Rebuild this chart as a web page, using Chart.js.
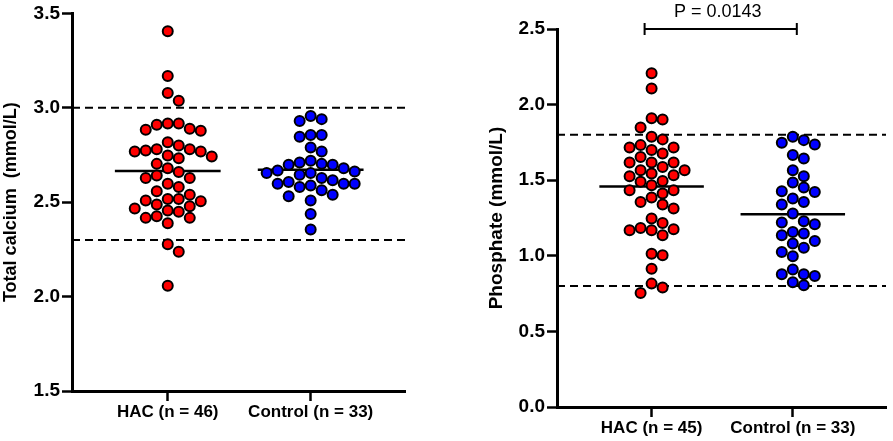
<!DOCTYPE html>
<html>
<head>
<meta charset="utf-8">
<script src="https://cdn.jsdelivr.net/npm/chart.js@4.4.1/dist/chart.umd.min.js"></script>
<style>
  html, body { margin: 0; padding: 0; background: #fff; }
  #wrap { position: relative; width: 893px; height: 441px; }
  canvas { position: absolute; top: 0; }
  #calciumChart { left: 0; }
  #phosphateChart { left: 440px; }
</style>
</head>
<body>
<div id="wrap">
  <canvas id="calciumChart" width="440" height="441"></canvas>
  <canvas id="phosphateChart" width="453" height="441"></canvas>
</div>
<script>
// values (mmol/L)
const calciumGroups = ['HAC (n = 46)', 'Control (n = 33)'];
const calciumHAC = [3.405, 3.168, 3.079, 3.037, 2.917, 2.917, 2.884, 2.889, 2.879, 2.91,
  2.817, 2.78, 2.768, 2.747, 2.774, 2.768, 2.8, 2.78, 2.733, 2.742,
  2.703, 2.68, 2.628, 2.642, 2.66, 2.628, 2.58, 2.598, 2.558, 2.54,
  2.479, 2.467, 2.509, 2.505, 2.517, 2.488, 2.517, 2.449, 2.456, 2.417,
  2.417, 2.426, 2.388, 2.277, 2.238, 2.058];
const calciumControl = [2.93, 2.94, 2.956, 2.856, 2.847, 2.856, 2.79, 2.768, 2.71, 2.703,
  2.698, 2.698, 2.72, 2.68, 2.668, 2.654, 2.646, 2.628, 2.663, 2.654,
  2.616, 2.598, 2.598, 2.58, 2.588, 2.563, 2.598, 2.607, 2.54, 2.509,
  2.532, 2.438, 2.356];
const calciumTicks = [1.5, 2.0, 2.5, 3.0, 3.5];
const calciumRefRange = [2.3, 3.0];

const phosphateGroups = ['HAC (n = 45)', 'Control (n = 33)'];
const phosphateHAC = [2.207, 2.107, 1.909, 1.902, 1.849, 1.787, 1.77, 1.717, 1.732, 1.717,
  1.699, 1.677, 1.654, 1.617, 1.617, 1.617, 1.588, 1.566, 1.566, 1.533,
  1.544, 1.526, 1.495, 1.489, 1.434, 1.467, 1.412, 1.434, 1.385, 1.356,
  1.339, 1.313, 1.246, 1.217, 1.169, 1.169, 1.136, 1.175, 1.184, 1.003,
  1.014, 0.915, 0.816, 0.79, 0.754];
const phosphateControl = [1.787, 1.736, 1.747, 1.765, 1.644, 1.666, 1.566, 1.526, 1.485, 1.452,
  1.427, 1.422, 1.379, 1.356, 1.339, 1.279, 1.209, 1.22, 1.228, 1.158,
  1.136, 1.147, 1.081, 1.098, 1.054, 1.025, 0.997, 0.909, 0.878, 0.867,
  0.878, 0.825, 0.805];
const phosphateTicks = [0.0, 0.5, 1.0, 1.5, 2.0, 2.5];
const phosphateRefRange = [0.8, 1.8];
const phosphatePLabel = 'P = 0.0143';

const FONT = "'Liberation Sans', Arial, sans-serif";
Chart.defaults.font.family = FONT;
Chart.defaults.color = '#000';

const X_MIN = -0.67, X_MAX = 1.66;
const MEAN_HALF = 0.37;

function mean(arr) {
  return arr.reduce((a, b) => a + b, 0) / arr.length;
}

function pointSet(values, pos, fill) {
  return {
    type: 'scatter',
    data: values.map(v => ({ x: pos, y: v })),
    backgroundColor: fill,
    borderColor: '#000',
    borderWidth: 2,
    pointRadius: 5,
    swarm: true,
    order: 0,
    clip: false
  };
}

function meanLine(values, pos) {
  const m = mean(values);
  return {
    type: 'line',
    data: [{ x: pos - MEAN_HALF, y: m }, { x: pos + MEAN_HALF, y: m }],
    borderColor: '#000',
    borderWidth: 2.5,
    pointRadius: 0,
    order: 1,
    clip: false
  };
}

function refLine(y) {
  return {
    type: 'line',
    data: [{ x: X_MIN, y: y }, { x: X_MAX, y: y }],
    borderColor: '#000',
    borderWidth: 2,
    borderDash: [8, 5],
    pointRadius: 0,
    order: 2,
    clip: false
  };
}

// spread the dots sideways so they don't pile up (simple beeswarm in pixels)
function beeswarm(chart) {
  const xs = chart.scales.x, ys = chart.scales.y;
  const unit = xs.getPixelForValue(1) - xs.getPixelForValue(0);
  const diam = 11, step = diam / 2;
  chart.data.datasets.forEach(ds => {
    if (!ds.swarm) return;
    const placed = [];
    const idx = ds.data.map((p, i) => i).sort((a, b) => ds.data[b].y - ds.data[a].y);
    idx.forEach(i => {
      const py = ys.getPixelForValue(ds.data[i].y);
      for (let k = 0; ; k++) {
        const dx = (k % 2 ? 1 : -1) * Math.ceil(k / 2) * step;
        if (placed.every(q => Math.hypot(q.dx - dx, q.py - py) >= diam)) {
          placed.push({ dx: dx, py: py });
          ds.data[i].x += dx / unit;
          break;
        }
      }
    });
  });
  chart.update('none');
}

const pBracket = {
  id: 'pBracket',
  afterDraw(chart) {
    const { ctx, chartArea, scales: { x } } = chart;
    const x0 = x.getPixelForValue(0) - 7, x1 = x.getPixelForValue(1) + 4;
    const y = chartArea.top;
    ctx.save();
    ctx.strokeStyle = '#000';
    ctx.lineWidth = 2;
    ctx.beginPath();
    ctx.moveTo(x0, y); ctx.lineTo(x1, y);
    ctx.moveTo(x0, y - 6); ctx.lineTo(x0, y + 6);
    ctx.moveTo(x1, y - 6); ctx.lineTo(x1, y + 6);
    ctx.stroke();
    ctx.font = '18px ' + FONT;
    ctx.fillStyle = '#000';
    ctx.textAlign = 'center';
    ctx.textBaseline = 'alphabetic';
    ctx.fillText(phosphatePLabel, (x0 + x1) / 2 - 3, y - 12);
    ctx.restore();
  }
};

function makeChart(id, o) {
  const axisGrid = { drawOnChartArea: false, tickLength: 10, tickWidth: 2.5, color: '#000' };
  const axisBorder = { color: '#000', width: 3 };
  const chart = new Chart(document.getElementById(id), {
    type: 'scatter',
    data: {
      datasets: [
        pointSet(o.a, 0, '#ff0000'),
        pointSet(o.b, 1, '#0000ff'),
        meanLine(o.a, 0),
        meanLine(o.b, 1),
        refLine(o.ref[0]),
        refLine(o.ref[1])
      ]
    },
    options: {
      responsive: false,
      animation: false,
      layout: { padding: o.padding },
      plugins: {
        legend: { display: false },
        tooltip: { enabled: false }
      },
      scales: {
        x: {
          type: 'linear',
          min: X_MIN,
          max: X_MAX,
          afterBuildTicks: axis => { axis.ticks = [{ value: 0 }, { value: 1 }]; },
          afterFit: axis => { axis.height = o.xHeight; },
          ticks: {
            callback: v => o.groups[v],
            font: { size: 17, weight: 'bold' },
            padding: 1,
            maxRotation: 0,
            autoSkip: false
          },
          grid: axisGrid,
          border: axisBorder
        },
        y: {
          min: o.ticks[0],
          max: o.ticks[o.ticks.length - 1],
          afterBuildTicks: axis => { axis.ticks = o.ticks.map(v => ({ value: v })); },
          afterFit: axis => { axis.width = o.yWidth; },
          ticks: {
            callback: v => v.toFixed(1),
            font: { size: 19, weight: 'bold' },
            padding: 2
          },
          grid: axisGrid,
          border: axisBorder,
          title: {
            display: true,
            text: o.title,
            font: { size: o.titleSize, weight: 'bold' },
            padding: { top: o.titlePad, bottom: 0 }
          }
        }
      }
    },
    plugins: o.plugins || []
  });
  beeswarm(chart);
  return chart;
}

const chartCalcium = makeChart('calciumChart', {
  a: calciumHAC, b: calciumControl, groups: calciumGroups,
  ticks: calciumTicks, ref: calciumRefRange,
  title: 'Total calcium  (mmol/L)', titleSize: 18,
  padding: { left: 0, top: 11, right: 35, bottom: 0 },
  yWidth: 72, xHeight: 50, titlePad: 0
});

const chartPhosphate = makeChart('phosphateChart', {
  a: phosphateHAC, b: phosphateControl, groups: phosphateGroups,
  ticks: phosphateTicks, ref: phosphateRefRange,
  title: 'Phosphate (mmol/L)', titleSize: 19,
  padding: { left: 0, top: 29, right: 5, bottom: 0 },
  yWidth: 117, xHeight: 34, titlePad: 45,
  plugins: [pBracket]
});
</script>
</body>
</html>
